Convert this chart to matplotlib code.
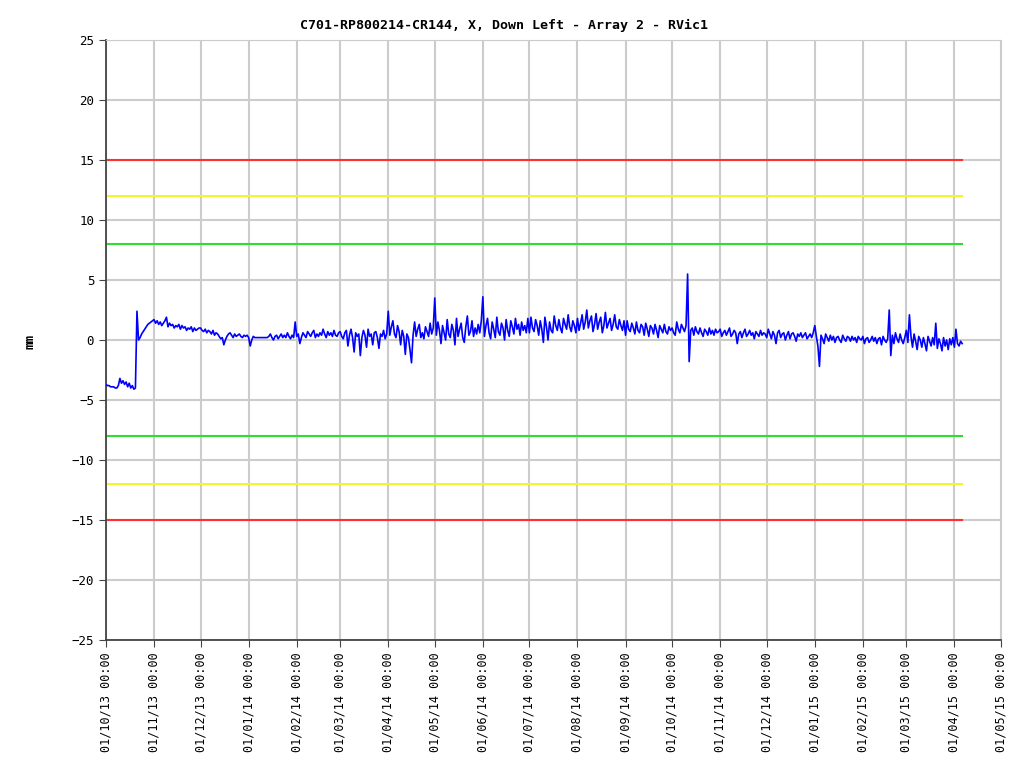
import pandas as pd
import matplotlib
matplotlib.use("Agg")
import matplotlib.pyplot as plt
import matplotlib.dates as mdates

# daily readings from 01/10/13
oct13 = [-3.7, -3.8, -3.8, -3.9, -3.9, -3.9, -4.0, -4.0, -3.8, -3.2, -3.6, -3.4, -3.7, -3.5, -3.9, -3.6,
         -4.0, -3.8, -4.1, -4.0, 2.4, 0.0, 0.2, 0.5, 0.7, 0.9, 1.1, 1.3, 1.4, 1.5, 1.6]
nov13 = [1.7, 1.4, 1.6, 1.3, 1.5, 1.2, 1.4, 1.6, 1.9, 1.1, 1.4, 1.2, 1.3, 1.0, 1.2, 1.1, 1.3, 0.9, 1.2, 1.0,
         1.1, 0.8, 1.0, 0.9, 1.1, 0.7, 1.0, 0.8, 0.9, 1.0]
dec13 = [1.0, 0.8, 0.7, 0.9, 0.6, 0.8, 0.7, 0.5, 0.8, 0.4, 0.6, 0.5, 0.3, 0.1, 0.2, -0.4, 0.0, 0.3, 0.5, 0.6,
         0.4, 0.2, 0.5, 0.3, 0.4, 0.5, 0.3, 0.2, 0.4, 0.3, 0.4]
jan14 = [0.2, -0.5, 0.0, 0.3, 0.2, 0.2, 0.2, 0.2, 0.2, 0.2, 0.2, 0.2, 0.2, 0.3, 0.5, 0.2, 0.0, 0.3, 0.4, 0.1,
         0.3, 0.5, 0.2, 0.4, 0.2, 0.6, 0.3, 0.1, 0.4, 0.2, 1.5]
feb14 = [0.3, 0.5, -0.3, 0.2, 0.6, 0.4, 0.2, 0.7, 0.5, 0.3, 0.6, 0.8, 0.2, 0.5, 0.3, 0.6, 0.4, 0.9, 0.5, 0.2,
         0.7, 0.4, 0.6, 0.3, 0.8, 0.4, 0.3, 0.6]
mar14 = [0.7, 0.3, 0.1, 0.6, 0.8, -0.5, 0.4, 0.9, 0.2, -1.0, 0.6, 0.3, 0.5, -1.3, 0.2, 0.8, 0.4, -0.6, 0.9, 0.3,
         0.5, -0.4, 0.6, 0.7, 0.2, -0.7, 0.5, 0.3, 0.8, 0.1, 0.5]
apr14 = [2.4, 0.4, 1.1, 1.6, 0.5, 0.2, 1.2, 0.7, -0.4, 0.8, 0.3, -1.2, 0.5, 0.2, -0.8, -1.9, 0.4, 1.5, 0.3, 0.9,
         1.3, 0.2, 0.6, 0.1, 1.1, 0.7, 0.3, 1.4, 0.5, 1.0]
may14 = [3.5, 0.4, 1.5, 0.8, -0.3, 1.2, 0.6, 0.0, 1.7, 0.5, 0.2, 1.3, 0.8, -0.4, 1.8, 0.3, 0.9, 1.4, 0.2, -0.2,
         1.1, 2.0, 0.4, 0.7, 1.6, 0.3, 1.0, 0.5, 1.3, 0.6, 1.6]
jun14 = [3.6, 0.3, 1.2, 1.8, 0.6, 0.1, 1.5, 0.9, 0.2, 1.9, 0.7, 0.4, 1.4, 1.0, 0.0, 1.7, 0.8, 0.3, 1.6, 1.1,
         0.5, 1.8, 0.9, 1.3, 0.4, 1.5, 0.8, 1.2, 0.6, 1.8]
jul14 = [0.6, 1.9, 1.0, 0.7, 1.7, 1.2, 0.4, 1.6, 0.9, -0.2, 1.9, 1.1, 0.0, 1.5, 0.8, 0.6, 2.0, 1.2, 0.8, 1.7,
         1.0, 0.6, 1.8, 1.3, 0.9, 2.1, 1.1, 0.7, 1.6, 1.2, 0.6]
aug14 = [1.8, 0.8, 1.4, 2.1, 0.9, 1.5, 2.5, 1.0, 1.6, 2.0, 0.7, 1.3, 2.2, 0.9, 1.5, 1.9, 0.6, 1.2, 2.3, 1.0,
         1.4, 1.8, 0.8, 1.3, 2.1, 1.1, 0.9, 1.7, 1.2, 0.8, 1.6]
sep14 = [0.4, 1.6, 0.9, 0.7, 1.4, 1.0, 0.5, 1.5, 0.8, 0.6, 1.3, 1.1, 0.4, 1.4, 0.9, 0.3, 1.2, 1.0, 0.5, 1.3,
         0.8, 0.2, 1.2, 0.9, 0.6, 1.3, 0.7, 0.5, 1.1, 0.8]
oct14 = [1.0, 0.6, 0.4, 1.5, 0.9, 0.6, 1.3, 1.0, 0.7, 1.2, 5.5, -1.8, 0.8, 1.0, 0.4, 1.1, 0.7, 0.5, 1.0, 0.6,
         0.3, 0.9, 0.7, 0.4, 1.0, 0.5, 0.8, 0.4, 0.9, 0.6, 0.7]
nov14 = [0.9, 0.3, 0.6, 0.8, 0.4, 0.7, 1.0, 0.3, 0.5, 0.8, 0.6, -0.3, 0.5, 0.7, 0.2, 0.6, 0.9, 0.3, 0.5, 0.8,
         0.4, 0.6, 0.1, 0.7, 0.5, 0.3, 0.8, 0.4, 0.6, 0.5]
dec14 = [0.2, 0.9, 0.5, 0.1, 0.7, 0.4, -0.3, 0.6, 0.8, 0.2, 0.5, 0.6, 0.0, 0.4, 0.7, 0.1, 0.5, 0.6, 0.3, -0.1,
         0.5, 0.3, 0.6, 0.2, 0.4, 0.6, 0.1, 0.3, 0.5, 0.2, 0.6]
jan15 = [1.2, 0.3, -0.5, -2.2, 0.4, 0.1, -0.3, 0.5, 0.2, -0.1, 0.4, 0.0, 0.3, -0.2, 0.2, 0.3, 0.0, -0.2, 0.4, 0.1,
         -0.1, 0.3, 0.2, -0.1, 0.3, 0.0, 0.2, -0.2, 0.3, 0.1, 0.0]
feb15 = [0.3, -0.3, 0.1, 0.2, -0.2, 0.0, 0.3, -0.1, 0.2, -0.3, 0.1, 0.2, -0.4, 0.3, 0.0, -0.2, 0.1, 2.5, -1.3, 0.4,
         -0.3, 0.6, 0.1, -0.2, 0.5, 0.0, -0.3, 0.2]
mar15 = [0.8, -0.2, 2.1, 0.3, -0.6, 0.5, -0.1, -0.8, 0.3, 0.0, -0.6, 0.2, -0.3, -0.9, 0.3, -0.1, -0.5, 0.2, -0.4, 1.4,
         -0.7, 0.1, -0.3, -0.9, 0.2, -0.5, 0.0, -0.8, 0.1, -0.4, 0.2]
apr15 = [-0.6, 0.9, -0.3, -0.5, -0.1, -0.3]

values = (oct13 + nov13 + dec13 + jan14 + feb14 + mar14 + apr14 + may14 + jun14
          + jul14 + aug14 + sep14 + oct14 + nov14 + dec14 + jan15 + feb15 + mar15 + apr15)
dates = pd.date_range("2013-10-01", periods=len(values), freq="D")

# alarm levels
limits = [15, 12, 8, -8, -12, -15]
limit_colors = ["#ff3030", "#f4f430", "#30dd30", "#30dd30", "#f4f430", "#ff3030"]

title = "C701-RP800214-CR144, X, Down Left - Array 2 - RVic1"
font = "DejaVu Sans Mono"

fig = plt.figure(figsize=(10.09, 7.63), dpi=100)
ax = fig.add_axes([0.105, 0.1612, 0.887, 0.7864])

for lvl, col in zip(limits, limit_colors):
    ax.plot([dates[0], dates[-1]], [lvl, lvl], color=col, lw=1.5, zorder=2)

ax.plot(dates, values, color="#0000ff", lw=1.2, zorder=3)

ax.set_ylim(-25, 25)
ax.set_yticks(range(-25, 26, 5))
ax.set_xlim(pd.Timestamp("2013-10-01"), pd.Timestamp("2015-05-01"))
ax.xaxis.set_major_locator(mdates.MonthLocator())
ax.xaxis.set_major_formatter(mdates.DateFormatter("%d/%m/%y %H:%M"))
plt.setp(ax.get_xticklabels(), rotation=90, ha="center", fontfamily=font, fontsize=8.5)
plt.setp(ax.get_yticklabels(), fontfamily=font, fontsize=9)

ax.grid(True, color="#cccccc", lw=1.5, zorder=0)
ax.set_axisbelow(True)
for side in ["top", "right"]:
    ax.spines[side].set_color("#cccccc")
for side in ["left", "bottom"]:
    ax.spines[side].set_color("#444444")
    ax.spines[side].set_linewidth(1.3)
ax.tick_params(direction="out", length=5, color="#444444")

fig.text(0.5, 0.967, title, ha="center", va="center", fontfamily=font,
         fontsize=9.5, fontweight="bold")
fig.text(0.03, 0.553, "mm", ha="center", va="center", rotation=90,
         fontfamily=font, fontsize=9, fontweight="bold")

fig.savefig("out.png", dpi=100)
